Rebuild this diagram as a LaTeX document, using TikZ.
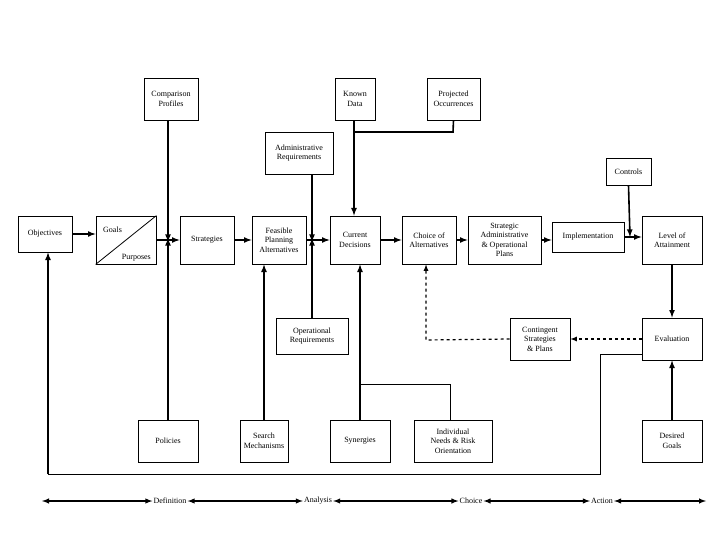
\documentclass[tikz,border=0pt]{standalone}
\usepackage{fontspec}
\setmainfont{Liberation Serif}
\begin{document}
\begin{tikzpicture}[x=1pt,y=-1pt,
  bx/.style={draw,thick,align=center,font=\fontsize{8}{9.5}\selectfont,inner sep=1pt},
  ln/.style={line width=1.6pt},
  ar/.style={line width=1.6pt,-latex},
  dar/.style={line width=1.2pt,dashed,-latex},
  lab/.style={font=\fontsize{8}{9.5}\selectfont,inner sep=1pt}]
\useasboundingbox (0,0) rectangle (720,540);
\newcommand{\bxat}[6]{\node[bx,minimum width=#4-#2,minimum height=#5-#3] (#1) at ({(#2+#4)/2},{(#3+#5)/2}) {#6};}
\bxat{cp}{144}{78}{198}{120}{Comparison\\Profiles}
\bxat{kd}{335}{78}{375}{120}{Known\\Data}
\bxat{po}{427}{78}{480}{120}{Projected\\Occurrences}
\bxat{ar}{265}{132}{333}{174}{Administrative\\Requirements}
\bxat{ct}{606}{158}{651}{185}{Controls}
\bxat{ob}{18}{216}{72}{252}{Objectives}
\bxat{gp}{96}{216}{156}{264}{}
\bxat{st}{180}{216}{234}{264}{Strategies}
\bxat{fp}{252}{216}{306}{264}{Feasible\\Planning\\Alternatives}
\bxat{cd}{330}{216}{380}{264}{Current\\Decisions}
\bxat{ca}{402}{216}{456}{264}{Choice of\\Alternatives}
\bxat{sa}{468}{216}{541}{264}{Strategic\\Administrative\\\& Operational\\Plans}
\bxat{im}{552}{222}{624}{252}{Implementation}
\bxat{la}{642}{216}{702}{264}{Level of\\Attainment}
\bxat{or}{276}{318}{348}{354}{Operational\\Requirements}
\bxat{cs}{510}{318}{570}{360}{Contingent\\Strategies\\\& Plans}
\bxat{ev}{642}{318}{702}{360}{Evaluation}
\bxat{pl}{138}{420}{198}{462}{Policies}
\bxat{sm}{240}{420}{288}{462}{Search\\Mechanisms}
\bxat{sy}{330}{420}{390}{462}{Synergies}
\bxat{in}{414}{420}{492}{462}{Individual\\Needs \& Risk\\Orientation}
\bxat{dg}{642}{420}{702}{462}{Desired\\Goals}
\draw[thick] (gp.south west) -- (gp.north east);
\node[lab,anchor=north west] (gl) at (102,226) {Goals};
\node[lab,anchor=south east] (pu) at (152,262) {Purposes};
% main chain
\draw[ar] (ob.east) -- (ob.east -| gp.west);
\draw[ar] (gp.east) -- (st.west);
\draw[ar] (st.east) -- (fp.west);
\draw[ar] (fp.east) -- (cd.west);
\draw[ar] (cd.east) -- (ca.west);
\draw[ar] (ca.east) -- (sa.west);
\draw[ar] (sa.east) -- (sa.east -| im.west);
\draw[ar] (im.east) -- (im.east -| la.west);
% verticals
\coordinate (j1) at (168,240);
\draw[ar] (cp.south -| j1) -- ([yshift=-2]j1);
\draw[ar] (pl.north -| j1) -- ([yshift=2]j1);
\coordinate (j2) at (312,240);
\draw[ar] (ar.south -| j2) -- ([yshift=-2]j2);
\draw[ar] (or.north -| j2) -- ([yshift=2]j2);
\draw[ar] (kd.south -| 354,0) -- (cd.north -| 354,0);
\draw[ln] (po.south) -- (453,132) -- (354,132);
\draw[ar] (ct.south) -- (630,237);
\draw[ar] (sm.north) -- (sm.north |- fp.south);
\draw[ar] (sy.north) -- (sy.north |- cd.south);
\draw[thick] (360,384) -- (450,384) -- (in.north -| 450,0);
\draw[ar] (la.south) -- (ev.north);
\draw[ar] (dg.north) -- (ev.south);
\draw[thick] (642,354) -- (600,354) -- (600,474) -- (48,474);
\draw[ar] (48,474) -- (ob.south -| 48,0);
\draw[dar] (ev.west) -- (cs.east);
\draw[dar] (cs.west) -- (426,340) -- (ca.south -| 426,0);
% axis
\node[lab] (d1) at (170,501) {Definition};
\node[lab] (d2) at (318,501) {Analysis};
\node[lab] (d3) at (471,501) {Choice};
\node[lab] (d4) at (602,501) {Action};
\coordinate (a0) at (42,501);
\coordinate (a5) at (706,501);
\draw[line width=1.4pt,latex-latex] (a0) -- (d1.west);
\draw[line width=1.4pt,latex-latex] (d1.east) -- (d2.west);
\draw[line width=1.4pt,latex-latex] (d2.east) -- (d3.west);
\draw[line width=1.4pt,latex-latex] (d3.east) -- (d4.west);
\draw[line width=1.4pt,latex-latex] (d4.east) -- (a5);
\end{tikzpicture}
\end{document}
